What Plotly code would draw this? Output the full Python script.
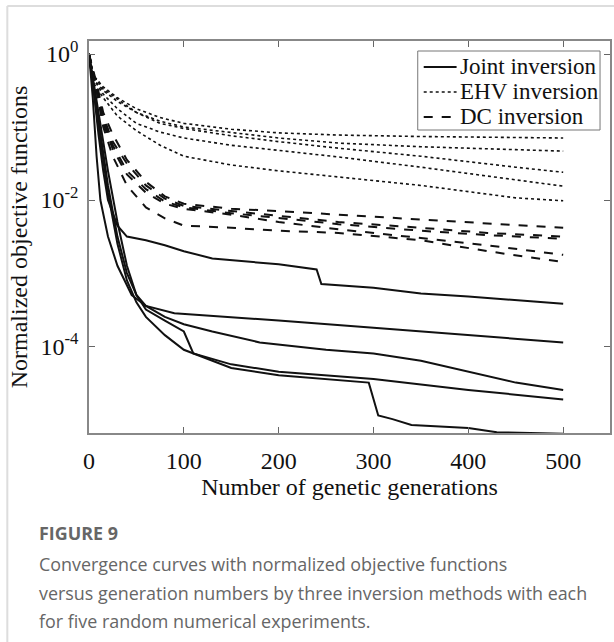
import plotly.graph_objects as go

# ---------------- data (log10 of objective) ----------------
gen_ehv = [0, 5, 15, 30, 50, 75, 100, 150, 200, 263, 350, 450, 500]
ehv1 = [0, -0.30, -0.45, -0.60, -0.75, -0.87, -0.95, -1.03, -1.08, -1.11, -1.13, -1.14, -1.15]
ehv2 = [0, -0.35, -0.50, -0.65, -0.80, -0.92, -1.00, -1.08, -1.15, -1.22, -1.27, -1.31, -1.33]
ehv3 = [0, -0.30, -0.48, -0.62, -0.80, -0.95, -1.02, -1.12, -1.20, -1.29, -1.40, -1.55, -1.62]
ehv4 = [0, -0.35, -0.55, -0.75, -0.95, -1.07, -1.15, -1.25, -1.32, -1.41, -1.55, -1.72, -1.81]
ehv5 = [0, -0.40, -0.60, -0.85, -1.05, -1.25, -1.40, -1.52, -1.60, -1.68, -1.80, -1.97, -2.01]

gen_dc = [0, 8, 15, 25, 40, 60, 80, 100, 150, 200, 263, 350, 420, 500]
dc1 = [0, -0.40, -0.80, -1.10, -1.45, -1.75, -1.95, -2.05, -2.12, -2.15, -2.20, -2.27, -2.32, -2.38]
dc2 = [0, -0.50, -0.85, -1.20, -1.50, -1.80, -1.98, -2.08, -2.15, -2.22, -2.30, -2.38, -2.45, -2.50]
dc3 = [0, -0.45, -0.90, -1.25, -1.60, -1.85, -2.02, -2.10, -2.18, -2.25, -2.33, -2.42, -2.48, -2.53]
dc4 = [0, -0.50, -0.95, -1.30, -1.65, -1.90, -2.05, -2.12, -2.20, -2.30, -2.40, -2.52, -2.62, -2.75]
dc5 = [0, -0.50, -1.00, -1.40, -1.80, -2.10, -2.25, -2.35, -2.38, -2.42, -2.45, -2.55, -2.70, -2.85]

gen_j1 = [0, 5, 10, 15, 20, 30, 40, 60, 80, 100, 130, 200, 240, 245, 300, 350, 400, 450, 500]
joint1 = [0, -0.5, -1.1, -1.6, -2.0, -2.35, -2.5, -2.55, -2.62, -2.7, -2.8, -2.88, -2.95, -3.15, -3.2, -3.28, -3.32, -3.37, -3.42]
gen_j2 = [0, 4, 8, 12, 20, 30, 45, 60, 90, 150, 200, 300, 400, 500]
joint2 = [0, -0.6, -1.4, -2.0, -2.5, -2.9, -3.3, -3.45, -3.55, -3.6, -3.65, -3.75, -3.85, -3.95]
gen_j3 = [0, 10, 20, 30, 40, 50, 60, 80, 100, 130, 180, 250, 300, 350, 400, 450, 500]
joint3 = [0, -0.8, -1.6, -2.3, -2.9, -3.3, -3.45, -3.6, -3.7, -3.8, -3.95, -4.05, -4.1, -4.2, -4.35, -4.5, -4.6]
gen_j4 = [0, 10, 20, 30, 40, 50, 60, 80, 100, 110, 150, 200, 300, 400, 500]
joint4 = [0, -0.9, -1.8, -2.5, -3.0, -3.3, -3.5, -3.65, -3.8, -4.1, -4.25, -4.35, -4.45, -4.6, -4.73]
gen_j5 = [0, 10, 20, 30, 40, 50, 60, 80, 100, 150, 200, 250, 295, 305, 320, 340, 400, 430, 500]
joint5 = [0, -1.0, -1.9, -2.6, -3.1, -3.4, -3.6, -3.85, -4.05, -4.3, -4.4, -4.45, -4.5, -4.95, -5.0, -5.08, -5.12, -5.18, -5.2]

x_ticks = [0, 100, 200, 300, 400, 500]
y_tickvals = [1, 1e-2, 1e-4]
y_ticktext = ["10<sup>0</sup>", "10<sup>-2</sup>", "10<sup>-4</sup>"]
legend_names = ["Joint inversion", "EHV inversion", "DC inversion"]

# ---------------- layout geometry (pixels) ----------------
W, H = 614, 642
L, R, T, B = 89, 612, 41, 433


def px2x(px):
    return (px - L) / (R - L)


def px2y(py):
    return (B - py) / (B - T)


SERIF = "Liberation Serif"
INK = "#111111"

fig = go.Figure()

groups = [
    (legend_names[0], "solid", 2.0, [(gen_j1, joint1), (gen_j2, joint2), (gen_j3, joint3), (gen_j4, joint4), (gen_j5, joint5)]),
    (legend_names[1], "dot", 1.6, [(gen_ehv, e) for e in (ehv1, ehv2, ehv3, ehv4, ehv5)]),
    (legend_names[2], "dash", 2.0, [(gen_dc, d) for d in (dc1, dc2, dc3, dc4, dc5)]),
]

for name, dash, w, curves in groups:
    for gx, ly in curves:
        fig.add_trace(go.Scatter(
            x=gx, y=[10 ** v for v in ly], mode="lines",
            line=dict(color=INK, width=w, dash=dash),
            name=name, showlegend=False,
        ))

axis_common = dict(
    showgrid=False, zeroline=False, showline=True, linecolor="#888888", linewidth=1.5,
    mirror="ticks", ticks="inside", ticklen=6, tickcolor="#666666", tickwidth=1.2,
    tickfont=dict(family=SERIF, size=24, color=INK),
)

fig.update_xaxes(
    range=[0, 500 * (R - L) / (565 - L)], tickvals=x_ticks, ticklabelstandoff=5,
    title=dict(text="Number of genetic generations", font=dict(family=SERIF, size=24, color=INK), standoff=4),
    **axis_common,
)
fig.update_yaxes(
    type="log", range=[-5.19, 0.178], tickvals=y_tickvals, ticktext=y_ticktext, ticklabelstandoff=4,
    title=dict(text="Normalized objective functions", font=dict(family=SERIF, size=24, color=INK), standoff=6),
    **axis_common,
)

# hand-drawn legend box (to match the compact MATLAB-style legend)
shapes = [
    dict(type="line", xref="paper", yref="paper", x0=px2x(7), x1=px2x(640), y0=px2y(6), y1=px2y(6),
         line=dict(color="#dddddd", width=2)),
    dict(type="line", xref="paper", yref="paper", x0=px2x(7), x1=px2x(7), y0=px2y(6), y1=px2y(660),
         line=dict(color="#dddddd", width=2)),
    dict(type="rect", xref="paper", yref="paper", x0=px2x(419), x1=px2x(602), y0=px2y(51), y1=px2y(130),
         line=dict(color="#777777", width=1), fillcolor="white", layer="above"),
]
leg_y = [67, 92, 117]
for (name, dash, w, _), yy in zip(groups, leg_y):
    shapes.append(dict(type="line", xref="paper", yref="paper", x0=px2x(425), x1=px2x(458),
                       y0=px2y(yy), y1=px2y(yy), line=dict(color=INK, width=w, dash=dash), layer="above"))
    fig.add_annotation(
        x=px2x(459), y=px2y(yy - 1), xref="paper", yref="paper", xanchor="left", yanchor="middle",
        text=name, showarrow=False, font=dict(family=SERIF, size=23, color=INK),
    )

fig.update_layout(
    width=W, height=H,
    margin=dict(l=L, r=W - R, t=T, b=H - B, pad=0),
    paper_bgcolor="white", plot_bgcolor="white",
    showlegend=False,
    shapes=shapes,
)

caption = [
    ("FIGURE 9", 533, True),
    ("Convergence curves with normalized objective functions", 564, False),
    ("versus generation numbers by three inversion methods with each", 593, False),
    ("for five random numerical experiments.", 621, False),
]
for text, yc, bold in caption:
    fig.add_annotation(
        x=px2x(37), y=px2y(yc), xref="paper", yref="paper", xanchor="left", yanchor="middle",
        text=f"<b>{text}</b>" if bold else text, showarrow=False,
        font=dict(family="Open Sans", size=17.9, color="#666666"),
    )

fig.write_html("out.html")
